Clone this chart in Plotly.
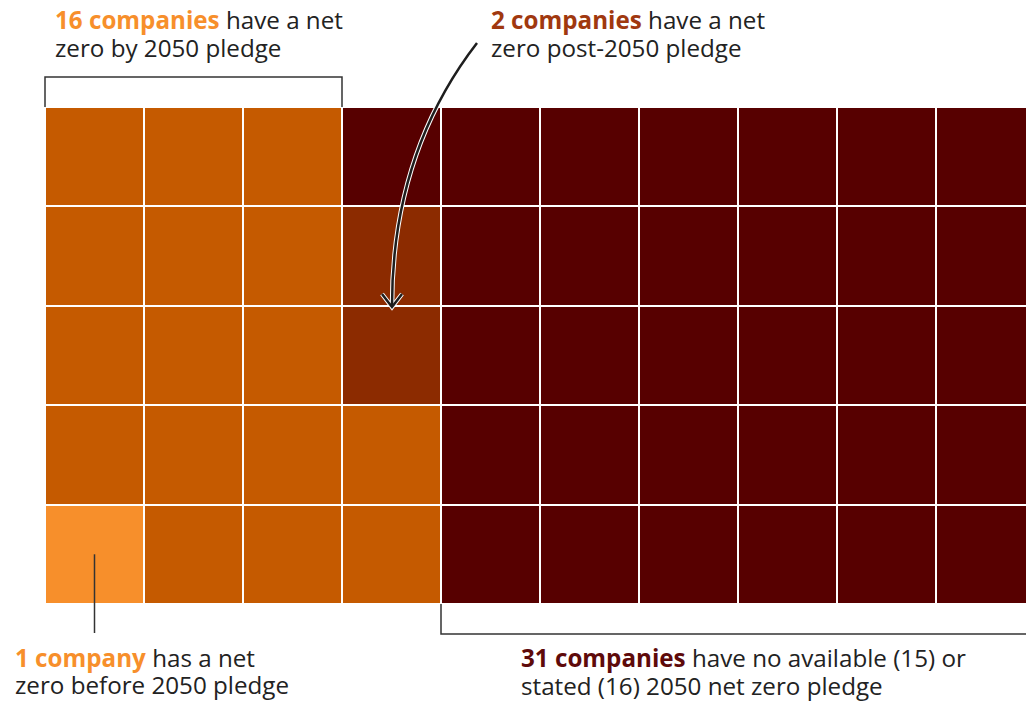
import plotly.graph_objects as go

# ---- data ----
categories = ["Net zero before 2050", "Net zero by 2050", "Net zero post-2050", "No available / stated 2050 pledge"]
counts = [1, 16, 2, 31]
colors = ["#F78F2B", "#C55A00", "#8C2B00", "#570000"]
text_colors = ["#F78F2B", "#F78F2B", "#A0380F", "#5E0A0A"]
n_rows = 5
n_cols = 10

# ---- build waffle grid: column by column, bottom to top ----
order = []
for i, c in enumerate(counts):
    order += [i] * c
z = [[None] * n_cols for _ in range(n_rows)]
for k, cat in enumerate(order):
    col = k // n_rows
    row = k % n_rows
    z[row][col] = cat

n = len(colors)
colorscale = []
for i, c in enumerate(colors):
    colorscale.append([i / n, c])
    colorscale.append([(i + 1) / n, c])

W, H = 1026, 702
GRID_L, GRID_T, GRID_B = 45, 107, 604
ML, MR, MT, MB = GRID_L, 0, GRID_T, H - GRID_B
plot_w = W - ML - MR
plot_h = H - MT - MB
cell_px = 99
x_max = plot_w / cell_px

fig = go.Figure(go.Heatmap(
    z=z,
    x=[c + 0.5 for c in range(n_cols)],
    y=[r + 0.5 for r in range(n_rows)],
    zmin=-0.5, zmax=n - 0.5,
    colorscale=colorscale,
    showscale=False,
    xgap=2, ygap=2,
    hoverinfo="skip",
))

def px_x(px):
    return (px - GRID_L) / plot_w

def px_y(py):
    return (GRID_B - py) / plot_h

def dx(xd):
    return xd / x_max

def dy(yd):
    return yd / n_rows

line_col = "#333333"
shapes = []
# top bracket over the "by 2050" columns
b_top = px_y(77)
shapes.append(dict(type="path", xref="paper", yref="paper",
                   path=f"M {dx(0)},{dy(n_rows)} L {dx(0)},{b_top} L {dx(3)},{b_top} L {dx(3)},{dy(n_rows)}",
                   line=dict(color=line_col, width=1.5)))
# bottom bracket under the "no pledge" columns
b_bot = px_y(634)
shapes.append(dict(type="path", xref="paper", yref="paper",
                   path=f"M {dx(4)},{dy(0)} L {dx(4)},{b_bot} L {px_x(1040)},{b_bot}",
                   line=dict(color=line_col, width=1.5)))
# vertical pointer from the single light cell
shapes.append(dict(type="line", xref="paper", yref="paper",
                   x0=dx(0.5), x1=dx(0.5), y0=dy(0.5), y1=px_y(633),
                   line=dict(color=line_col, width=1.5)))
# curved arrow (white halo then dark line)
p0 = (477, 43)
cp = (392, 153)
p1 = (392, 306)
curve = f"M {px_x(p0[0])},{px_y(p0[1])} Q {px_x(cp[0])},{px_y(cp[1])} {px_x(p1[0])},{px_y(p1[1])}"
head = f"M {px_x(382)},{px_y(294)} L {px_x(392)},{px_y(307)} L {px_x(402)},{px_y(294)}"
for w, c in [(4.5, "white"), (2.5, "#1e1e1e")]:
    shapes.append(dict(type="path", xref="paper", yref="paper", path=curve,
                       line=dict(color=c, width=w)))
    shapes.append(dict(type="path", xref="paper", yref="paper", path=head,
                       line=dict(color=c, width=w)))

FS = 24.2
font = dict(family="Open Sans", size=FS, color="#222222")

def line_ann(x_px, mid_px, text):
    return dict(
        xref="paper", yref="paper", x=px_x(x_px - 1), y=px_y(mid_px - 2),
        xanchor="left", yanchor="middle", align="left", showarrow=False,
        borderpad=0, text=text, font=font,
    )

def label(x_px, mid1, mid2, bold, rest1, line2, color):
    return [
        line_ann(x_px, mid1, f"<b><span style='color:{color}'>{bold}</span></b> {rest1}"),
        line_ann(x_px, mid2, line2),
    ]

annotations = (
    label(55, 21.5, 49.5, "16 companies", "have a net", "zero by 2050 pledge", text_colors[1])
    + label(491, 21.5, 49.5, "2 companies", "have a net", "zero post-2050 pledge", text_colors[2])
    + label(15, 659, 686.5, "1 company", "has a net", "zero before 2050 pledge", text_colors[0])
    + label(521, 659.5, 687, "31 companies", "have no available (15) or", "stated (16) 2050 net zero pledge", text_colors[3])
)

fig.update_layout(
    width=W, height=H,
    margin=dict(l=ML, r=MR, t=MT, b=MB, pad=0),
    paper_bgcolor="white", plot_bgcolor="white",
    xaxis=dict(range=[0, x_max], visible=False, fixedrange=True),
    yaxis=dict(range=[0, n_rows], visible=False, fixedrange=True),
    shapes=shapes,
    annotations=annotations,
    showlegend=False,
)

fig.write_html(
    "out.html",
    config={"displayModeBar": False},
    post_script="document.body.style.margin='0';document.body.style.overflow='hidden';",
)
